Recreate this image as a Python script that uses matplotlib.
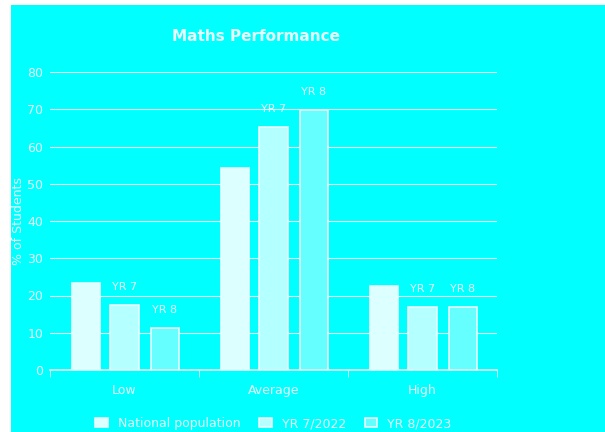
import matplotlib
matplotlib.use('Agg')
import matplotlib.pyplot as plt
import numpy as np
from matplotlib.patches import Rectangle

categories = ['Low', 'Average', 'High']
series_names = ['National population', 'YR 7/2022', 'YR 8/2023']
national = [23.4, 54.2, 22.5]
yr7 = [17.4, 65.2, 17.0]
yr8 = [11.2, 69.8, 16.8]
bar_tags = [None, 'YR 7', 'YR 8']

bg = '#00FFFF'
txt = '#E6FFFF'
fills = ['#DCFFFF', '#B4FFFF', '#66FFFF']

fig = plt.figure(figsize=(6.05, 4.32), dpi=100, facecolor='white')
fig.patches.append(Rectangle((11 / 605, 0), 1, 1 - 5 / 432, transform=fig.transFigure,
                             facecolor=bg, edgecolor='none', zorder=-1))
ax = fig.add_axes([50 / 605, 62 / 432, 447 / 605, 298 / 432])
ax.set_facecolor(bg)

x = np.arange(len(categories))
offsets = [-0.26, 0.0, 0.27]
width = 0.19
for i, vals in enumerate([national, yr7, yr8]):
    bars = ax.bar(x + offsets[i], vals, width, color=fills[i], edgecolor=txt,
                  linewidth=1.2, label=series_names[i], zorder=3)
    if bar_tags[i]:
        for b in bars:
            ax.text(b.get_x() + b.get_width() / 2, b.get_height() + 3.5, bar_tags[i],
                    ha='center', va='bottom', color=txt, fontsize=8)

ax.set_xlim(-0.5, 2.5)
ax.set_ylim(0, 80)
ax.set_yticks(range(0, 81, 10))
ax.grid(axis='y', color=txt, linewidth=0.8, zorder=0)
ax.set_xticks(x)
ax.set_xticklabels(categories, color=txt, fontsize=9)
ax.set_xticks([-0.5, 0.5, 1.5, 2.5], minor=True)
ax.tick_params(axis='x', which='major', length=0, pad=10)
ax.tick_params(axis='x', which='minor', length=5, color=txt)
ax.tick_params(axis='y', length=0, colors=txt, labelsize=9, pad=5)
for s in ['top', 'right', 'left']:
    ax.spines[s].set_visible(False)
ax.spines['bottom'].set_color(txt)
ax.spines['bottom'].set_linewidth(1.2)

ax.set_ylabel('% of Students', color=txt, fontsize=9)
ax.yaxis.set_label_coords(-0.055, 0.5)
ax.set_title('Maths Performance', color=txt, fontsize=11, fontweight='bold', pad=22, x=0.46)

leg = ax.legend(loc='upper center', bbox_to_anchor=(0.5, -0.12), ncol=3, frameon=False,
                fontsize=9, handlelength=1.0, columnspacing=1.5)
for t in leg.get_texts():
    t.set_color(txt)

fig.savefig('out.png', dpi=100, facecolor=fig.get_facecolor())
